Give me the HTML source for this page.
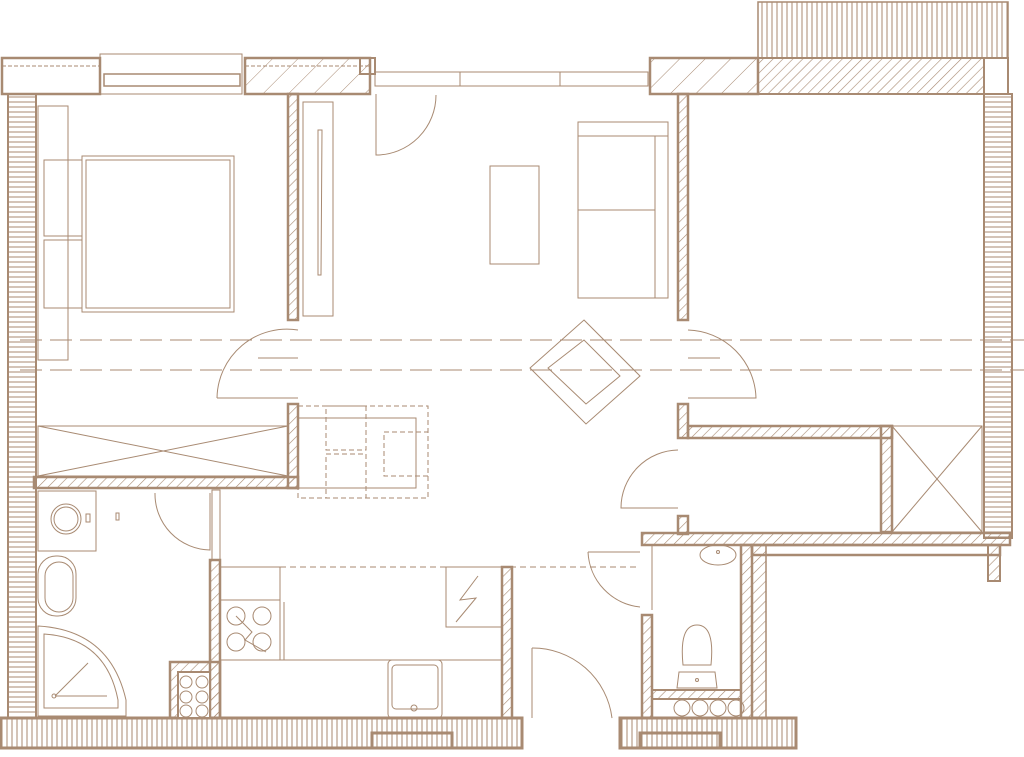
<!DOCTYPE html>
<html><head><style>html,body{margin:0;padding:0;background:#fff}svg{display:block}</style></head>
<body>
<svg width="1024" height="757" viewBox="0 0 1024 757" xmlns="http://www.w3.org/2000/svg">
<defs>
<pattern id="d" width="7" height="7" patternUnits="userSpaceOnUse" patternTransform="rotate(45)"><line x1="0" y1="0" x2="0" y2="7" stroke="#a88a72" stroke-width="1.2"/></pattern>
<pattern id="dw" width="18" height="18" patternUnits="userSpaceOnUse" patternTransform="rotate(45)"><line x1="0" y1="0" x2="0" y2="18" stroke="#a88a72" stroke-width="1"/></pattern>
<pattern id="v" width="5" height="5" patternUnits="userSpaceOnUse"><line x1="2" y1="0" x2="2" y2="5" stroke="#a88a72" stroke-width="1"/></pattern>
<pattern id="h" width="5" height="5" patternUnits="userSpaceOnUse"><line x1="0" y1="2" x2="5" y2="2" stroke="#a88a72" stroke-width="1"/></pattern>
</defs>
<g stroke="#a88a72" fill="none">
<rect x="8" y="94" width="28" height="624" fill="url(#h)" stroke-width="2"/>
<rect x="984" y="94" width="28" height="444" fill="url(#h)" stroke-width="2"/>
<rect x="0" y="718" width="522" height="30" fill="url(#v)" stroke-width="3"/>
<rect x="620" y="718" width="176" height="30" fill="url(#v)" stroke-width="3"/>
<rect x="372" y="733" width="80" height="15" stroke-width="3"/>
<rect x="640" y="733" width="80" height="15" stroke-width="3"/>
<rect x="2" y="58" width="98" height="36" stroke-width="2.5"/>
<line x1="2" y1="66" x2="100" y2="66" stroke-dasharray="4 2"/>
<rect x="100" y="54" width="142" height="40" stroke-width="1"/>
<rect x="104" y="74" width="136" height="12" stroke-width="1.5"/>
<rect x="245" y="58" width="125" height="36" fill="url(#dw)" stroke-width="2.5"/>
<line x1="245" y1="66" x2="370" y2="66" stroke-dasharray="4 2"/>
<rect x="360" y="58" width="15" height="16" stroke-width="2"/>
<rect x="375" y="72" width="273" height="14" stroke-width="1"/>
<line x1="460" y1="72" x2="460" y2="86"/><line x1="560" y1="72" x2="560" y2="86"/>
<rect x="650" y="58" width="108" height="36" fill="url(#dw)" stroke-width="2.5"/>
<rect x="758" y="58" width="226" height="36" fill="url(#d)" stroke-width="2"/>
<rect x="758" y="2" width="250" height="56" fill="url(#v)" stroke-width="1.5"/>
<rect x="984" y="58" width="24" height="36" stroke-width="2"/>
<rect x="288" y="94" width="10" height="226" fill="url(#d)" stroke-width="2.5"/>
<rect x="288" y="404" width="10" height="84" fill="url(#d)" stroke-width="2.5"/>
<rect x="34" y="477" width="264" height="11" fill="url(#d)" stroke-width="2.5"/>
<rect x="678" y="94" width="10" height="226" fill="url(#d)" stroke-width="2.5"/>
<rect x="678" y="404" width="10" height="34" fill="url(#d)" stroke-width="2.5"/>
<rect x="678" y="516" width="10" height="18" fill="url(#d)" stroke-width="2.5"/>
<rect x="688" y="426" width="204" height="12" fill="url(#d)" stroke-width="2.5"/>
<rect x="881" y="426" width="11" height="106" fill="url(#d)" stroke-width="2.5"/>
<rect x="642" y="533" width="368" height="12" fill="url(#d)" stroke-width="2.5"/>
<rect x="741" y="545" width="11" height="173" fill="url(#d)" stroke-width="2.5"/>
<rect x="752" y="545" width="14" height="173" fill="url(#d)" stroke-width="1.5"/>
<rect x="752" y="545" width="248" height="10" stroke-width="2.5"/>
<rect x="988" y="545" width="12" height="36" fill="url(#d)" stroke-width="2"/>
<rect x="642" y="615" width="10" height="103" fill="url(#d)" stroke-width="2.5"/>
<rect x="652" y="690" width="89" height="9" fill="url(#d)" stroke-width="2"/>
<rect x="210" y="560" width="10" height="158" fill="url(#d)" stroke-width="2.5"/>
<rect x="170" y="662" width="50" height="56" fill="url(#d)" stroke-width="2.5"/>
<rect x="178" y="672" width="32" height="46" fill="#fff" stroke-width="2"/>
<rect x="502" y="567" width="10" height="151" fill="url(#d)" stroke-width="2.5"/>
<g stroke-width="1">
<circle cx="186" cy="682" r="6"/><circle cx="202" cy="682" r="6"/><circle cx="186" cy="697" r="6"/><circle cx="202" cy="697" r="6"/><circle cx="186" cy="711" r="6"/><circle cx="202" cy="711" r="6"/>
<circle cx="682" cy="708" r="8"/><circle cx="700" cy="708" r="8"/><circle cx="718" cy="708" r="8"/><circle cx="736" cy="708" r="8"/>
</g>
<g stroke-width="1">
<rect x="892" y="426" width="90" height="106"/><line x1="892" y1="426" x2="982" y2="532"/><line x1="982" y1="426" x2="892" y2="532"/>
<rect x="38" y="426" width="250" height="50"/><line x1="38" y1="426" x2="288" y2="476"/><line x1="288" y1="426" x2="38" y2="476"/>
<line x1="20" y1="340" x2="1024" y2="340" stroke-dasharray="22 8"/>
<line x1="20" y1="370" x2="1024" y2="370" stroke-dasharray="22 8"/>
<line x1="220" y1="567" x2="640" y2="567" stroke-dasharray="6 4"/>
<rect x="38" y="106" width="30" height="254"/>
<rect x="44" y="160" width="38" height="76"/><rect x="44" y="240" width="38" height="68"/>
<rect x="82" y="156" width="152" height="156"/><rect x="86" y="160" width="144" height="148"/>
<rect x="303" y="102" width="30" height="214"/>
<path d="M318 130 L322 130 L321 275 L318 275 Z"/>
<path d="M376 94 L376 155 A60 60 0 0 0 436 95"/>
<path d="M217 398 L298 398 M298 330 A70 70 0 0 0 217 398 M258 358 L298 358"/>
<path d="M688 330 A70 70 0 0 1 756 398 L688 398 M688 358 L720 358"/>
<path d="M678 450 A58 58 0 0 0 621 508 L678 508"/>
<path d="M155 493 A56 56 0 0 0 210 550 L210 493"/>
<path d="M588 552 L640 552 M588 552 A58 58 0 0 0 640 607"/>
<path d="M532 648 L532 718 M532 648 A80 80 0 0 1 612 718 L612 718"/>
<rect x="212" y="490" width="8" height="70"/>
<rect x="490" y="166" width="49" height="98"/>
<rect x="578" y="122" width="90" height="176"/><line x1="578" y1="210" x2="655" y2="210"/><line x1="655" y1="136" x2="655" y2="298"/><line x1="578" y1="136" x2="668" y2="136"/>
<path d="M584 320 L640 376 L586 424 L530 368 Z M548 368 L586 404 L620 376 L584 340 Z"/>
<rect x="298" y="418" width="118" height="70"/>
<g stroke-dasharray="5 3"><rect x="298" y="406" width="130" height="92"/><rect x="326" y="406" width="40" height="44"/><rect x="326" y="454" width="40" height="44"/><rect x="384" y="432" width="44" height="44"/></g>
<rect x="38" y="491" width="58" height="60"/><circle cx="66" cy="519" r="15"/><circle cx="66" cy="519" r="12"/><rect x="86" y="514" width="4" height="8"/><rect x="116" y="513" width="3" height="7"/>
<rect x="38" y="556" width="38" height="60" rx="18"/><rect x="45" y="562" width="28" height="50" rx="14"/>
<path d="M38 626 Q110 630 126 700 L126 716 L38 716 Z"/><path d="M44 634 Q106 638 118 700 L118 708 L44 708 Z"/>
<line x1="55" y1="696" x2="88" y2="663"/><line x1="55" y1="696" x2="107" y2="696"/><circle cx="54" cy="696" r="2"/>
<rect x="220" y="567" width="60" height="33"/><rect x="220" y="600" width="60" height="60"/>
<circle cx="236" cy="616" r="9"/><circle cx="262" cy="616" r="9"/><circle cx="236" cy="642" r="9"/><circle cx="262" cy="642" r="9"/>
<path d="M236 616 L252 632 L245 640 L266 652"/><line x1="284" y1="602" x2="284" y2="660"/>
<line x1="220" y1="660" x2="502" y2="660"/>
<rect x="388" y="660" width="54" height="58" rx="4"/><rect x="392" y="665" width="46" height="44" rx="4"/><circle cx="414" cy="708" r="3"/>
<rect x="446" y="567" width="56" height="60"/><path d="M478 576 L460 600 L476 598 L456 622"/>
<ellipse cx="718" cy="555" rx="18" ry="10"/><circle cx="718" cy="552" r="1.5"/>
<path d="M683 665 Q679 625 697 625 Q715 625 711 665 Z"/><path d="M679 672 L715 672 L717 688 L677 688 Z"/><circle cx="697" cy="680" r="1.5"/>
<line x1="652" y1="545" x2="652" y2="610"/>
</g>
</g>
</svg>
</body></html>
